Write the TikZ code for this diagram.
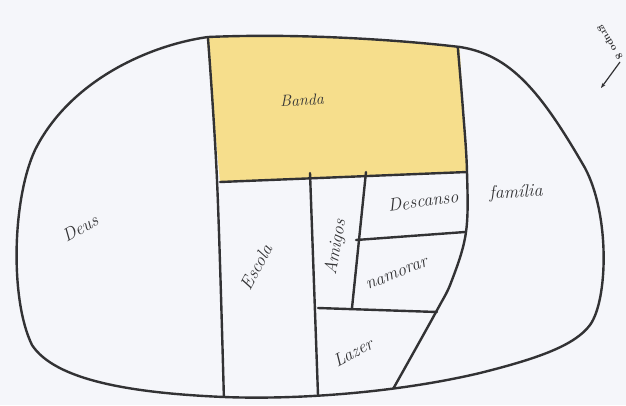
\documentclass[tikz,border=0pt]{standalone}
\usepackage{tikz}
\usetikzlibrary{arrows.meta}
\definecolor{pencil}{RGB}{50,50,52}
\definecolor{paper}{RGB}{245,246,250}
\definecolor{bandafill}{RGB}{246,222,140}
\begin{document}
\begin{tikzpicture}[x=1pt,y=-1pt]
  \tikzstyle{pen}=[draw=pencil,line width=2.4pt,line cap=round,line join=round]
  \tikzstyle{word}=[text=pencil,inner sep=0pt,font=\itshape\fontsize{18}{20}\selectfont]
  \def\blob{(208,37) .. controls (300,33) and (400,40) .. (460,47)
    .. controls (510,55) and (540,90) .. (585,168)
    .. controls (610,215) and (608,300) .. (590,325)
    .. controls (575,345) and (540,358) .. (480,373)
    .. controls (400,392) and (300,400) .. (224,397)
    .. controls (130,393) and (55,380) .. (32,345)
    .. controls (10,300) and (12,200) .. (35,150)
    .. controls (70,80) and (150,45) .. (208,37) -- cycle}
  \fill[paper] (0,0) rectangle (626,405);
  \begin{scope}
    \clip \blob;
    \fill[bandafill] (205,20) -- (458,20) -- (467,172) -- (220,182) -- cycle;
    \draw[pen] plot[smooth,tension=0.6] coordinates {(207,25) (217,180) (224,402)};
    \draw[pen] plot[smooth,tension=0.6] coordinates {(457,38) (463,110) (467,172) (466,232) (452,280) (436,312) (388,398)};
    \draw[pen] (220,182) -- (467,172);
    \draw[pen] (310,173) -- (318,395);
    \draw[pen] (366,172) -- (352,308);
    \draw[pen] (356,240) -- (465,232);
    \draw[pen] (318,308) -- (437,312);
  \end{scope}
  \draw[pen] \blob;
  % labels
  \node[word,font=\itshape\fontsize{16}{18}\selectfont,rotate=3] (banda) at (302,100) {Banda};
  \node[word,rotate=30] (deus) at (80,228) {Deus};
  \node[word,rotate=62] (escola) at (256,267) {Escola};
  \node[word,rotate=80] (amigos) at (336,247) {Amigos};
  \node[word,rotate=8] (descanso) at (423,201) {Descanso};
  \node[word,rotate=3] (familia) at (516,193) {família};
  \node[word,rotate=22] (namorar) at (397,274) {namorar};
  \node[word,rotate=28] (lazer) at (353,352) {Lazer};
  \node[text=pencil,inner sep=0pt,font=\bfseries\fontsize{10}{11}\selectfont,rotate=-60] (grupo) at (610,42) {grupo 8};
  \coordinate (tail) at (620,62);
  \coordinate (tip) at (601,88);
  \draw[pencil,line width=1.2pt,-{Stealth[length=5pt]}] (tail) -- (tip);
\end{tikzpicture}
\end{document}
